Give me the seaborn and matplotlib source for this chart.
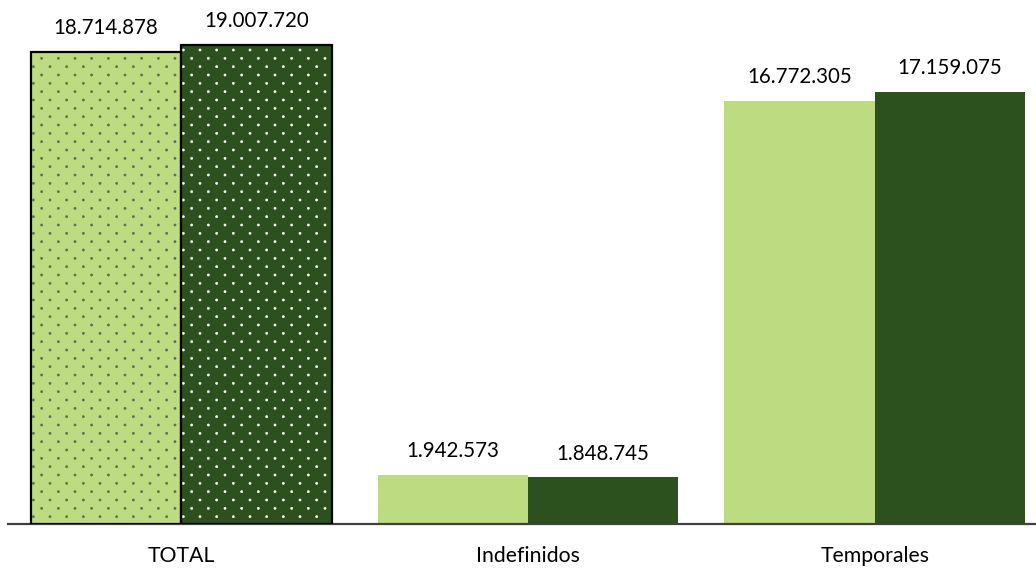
import numpy as np
import pandas as pd
import matplotlib
matplotlib.use("Agg")
import matplotlib.pyplot as plt
import matplotlib.hatch as mhatch
from matplotlib.path import Path
from matplotlib.colors import to_rgba
import seaborn as sns

# ---------------- data ----------------
categories = ["TOTAL", "Indefinidos", "Temporales"]
series_names = ["Periodo anterior", "Periodo actual"]
values_prev = [18714878, 1942573, 16772305]
values_curr = [19007720, 1848745, 17159075]

light = "#BDDB81"
dark = "#2C501E"


# ---------- custom staggered dot hatch (rows twice as dense as columns) ----------
class StaggeredDots(mhatch.Shapes):
    size = 0.065
    filled = True

    def __init__(self, hatch, density):
        self.num_rows = hatch.count(".") * density
        circ = Path.unit_circle()
        self.shape_vertices = circ.vertices
        self.shape_codes = circ.codes
        n = self.num_rows
        if n == 0:
            self.num_shapes = 0
            self.num_vertices = 0
        else:
            self.num_shapes = (n + 1) * (n + 1) + n * n
            self.num_vertices = self.num_shapes * len(self.shape_vertices)

    def set_vertices_and_codes(self, vertices, codes):
        n = self.num_rows
        offset = 1.0 / n
        sv = self.shape_vertices * offset * self.size
        vparts, cparts = [], []
        for row in range(2 * n + 1):
            if row % 2 == 0:
                cols = np.linspace(0, 1, n + 1)
            else:
                cols = np.linspace(offset / 2, 1 - offset / 2, n)
            for c in cols:
                vparts.append(sv + [c, row * offset / 2])
                cparts.append(self.shape_codes)
        np.concatenate(vparts, out=vertices)
        np.concatenate(cparts, out=codes)


mhatch._hatch_types = [StaggeredDots if t is mhatch.SmallFilledCircles else t
                       for t in mhatch._hatch_types]

# ---------------- data frame ----------------
df = pd.DataFrame({
    "categoria": categories * 2,
    "serie": [series_names[0]] * 3 + [series_names[1]] * 3,
    "valor": values_prev + values_curr,
})

sns.set_style("white")
plt.rcParams["font.family"] = ["Lato", "DejaVu Sans"]
plt.rcParams["hatch.linewidth"] = 0.4

fig = plt.figure(figsize=(10.36, 5.74), dpi=100)
ax = fig.add_axes([8 / 1036, 50 / 574, 1040 / 1036, 524 / 574])

sns.barplot(data=df, x="categoria", y="valor", hue="serie",
            palette=[light, dark], width=0.868, gap=0, saturation=1,
            errorbar=None, legend=False, linewidth=0, ax=ax)

hatch_cols = ["#5E6A50", "#FFFFFF"]
for cont, hc in zip(ax.containers, hatch_cols):
    for p in cont:
        p.set_linewidth(0)
    bar = cont[0]
    bar.set_edgecolor("black")
    bar.set_linewidth(1.6)
    bar.set_hatch(".")
    bar._hatch_color = to_rgba(hc)
    bar.set_zorder(3)

for cont in ax.containers:
    vals = [p.get_height() for p in cont]
    ax.bar_label(cont, labels=[f"{v:,.0f}".replace(",", ".") for v in vals],
                 padding=10, fontsize=14.8, color="#000000")

ax.set_xlim(-0.5, 2.5)
ax.set_ylim(0, 20.79e6)
ax.set_xlabel("")
ax.set_ylabel("")
ax.set_yticks([])
sns.despine(ax=ax, left=True, top=True, right=True)
ax.spines["bottom"].set_color("#404040")
ax.spines["bottom"].set_linewidth(1.6)
ax.tick_params(axis="x", length=0, pad=16, labelsize=15.3, labelcolor="#000000")

fig.savefig("out.png", dpi=100)
